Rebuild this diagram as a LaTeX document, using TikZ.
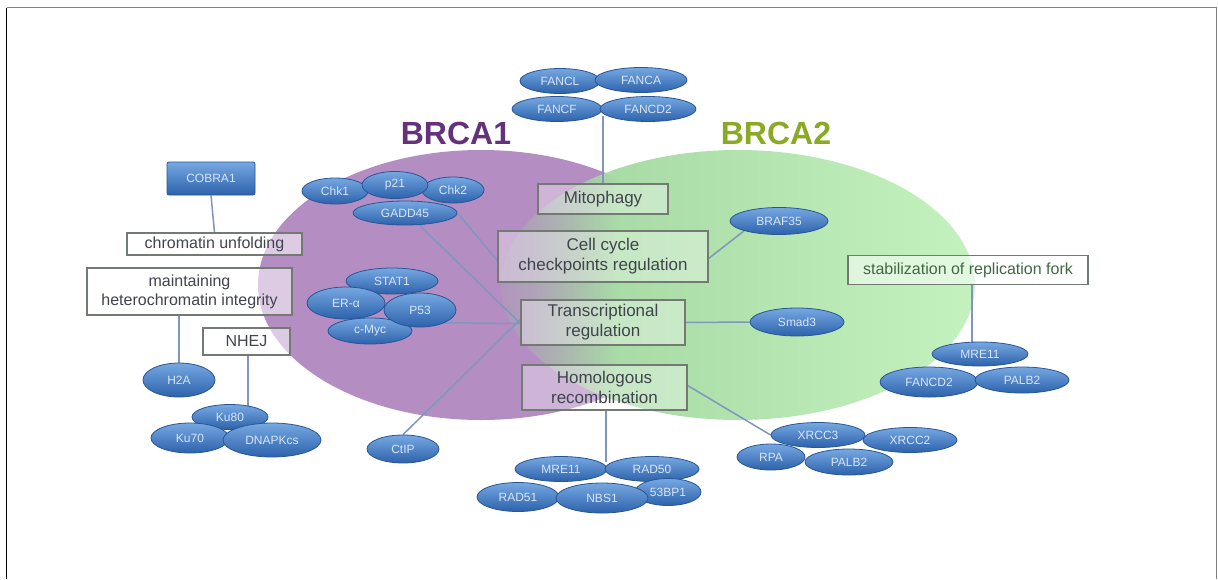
\documentclass[tikz,border=0pt]{standalone}
\usepackage{fontspec}
\setmainfont{Liberation Sans}
\usetikzlibrary{shapes.geometric,fadings,calc}
\definecolor{purpleBG}{RGB}{180,141,194}
\definecolor{greenL}{RGB}{160,212,158}
\definecolor{greenR}{RGB}{196,242,190}
\definecolor{blueT}{RGB}{118,168,225}
\definecolor{blueD}{RGB}{45,98,172}
\definecolor{blueB}{RGB}{40,85,150}
\definecolor{protT}{RGB}{215,228,245}
\definecolor{boxB}{RGB}{115,122,115}
\definecolor{boxT}{RGB}{65,68,78}
\definecolor{stabT}{RGB}{65,105,65}
\definecolor{lineC}{RGB}{128,150,190}
\definecolor{brcaA}{RGB}{100,50,122}
\definecolor{brcaB}{RGB}{138,170,35}
\pgfdeclarelayer{bg}
\pgfdeclarelayer{lines}
\pgfsetlayers{bg,lines,main}
\begin{tikzfadingfrompicture}[name=gfade]
  \shade[left color=transparent!100, right color=transparent!70] (-25bp,-30bp) rectangle (-19bp,30bp);
  \shade[left color=transparent!70, right color=transparent!35] (-19bp,-30bp) rectangle (-14.6bp,30bp);
  \shade[left color=transparent!35, right color=transparent!0] (-14.6bp,-30bp) rectangle (-10.3bp,30bp);
  \fill[transparent!0] (-10.3bp,-30bp) rectangle (30bp,30bp);
\end{tikzfadingfrompicture}
\begin{document}
\begin{tikzpicture}[x=1pt,y=-1pt,
  prot/.style={ellipse, draw=blueB, line width=0.8pt, top color=blueT, bottom color=blueD, inner sep=0pt, text=protT, font=\fontsize{12}{12}\selectfont},
  fbox/.style={rectangle, draw=boxB, line width=1.2pt, fill=white, fill opacity=0.55, text opacity=1, text=boxT, align=center, font=\fontsize{16}{19}\selectfont, inner sep=0pt},
  cbox/.style={fbox, fill opacity=0.35, font=\fontsize{17}{20}\selectfont},
  conn/.style={draw=lineC, line width=1.5pt},
  brca/.style={font=\fontsize{32}{32}\selectfont\bfseries}
]
\useasboundingbox (0,0) rectangle (1218,579);
\begin{pgfonlayer}{bg}
  \fill[white] (0,0) rectangle (1218,579);
  \fill[purpleBG] (481,285) ellipse [x radius=223, y radius=135];
  \path[left color=greenL, right color=greenR, path fading=gfade, fit fading=true] (738,285) ellipse [x radius=237, y radius=135];
\end{pgfonlayer}

% frame
\draw[black, line width=1.5pt] (6.5,579) -- (6.5,7.5);
\draw[gray, line width=1.5pt] (6.5,7.5) -- (1216.5,7.5) -- (1216.5,579);

% titles
\node[brca, text=brcaA] (t1) at (456,133) {BRCA1};
\node[brca, text=brcaB] (t2) at (776,133) {BRCA2};

% boxes
\node[cbox, minimum width=130, minimum height=30] (mito) at (603,199) {Mitophagy};
\node[cbox, minimum width=210, minimum height=51] (cc) at (603,256.5) {Cell cycle\\checkpoints regulation};
\node[cbox, minimum width=164, minimum height=45] (tr) at (603,322.5) {Transcriptional\\regulation};
\node[cbox, minimum width=165, minimum height=45] (hr) at (604.5,387.5) {Homologous\\recombination};
\node[fbox, minimum width=175, minimum height=22] (chrom) at (214.5,244) {chromatin unfolding};
\node[fbox, minimum width=205, minimum height=47] (maint) at (189.5,291.5) {maintaining\\heterochromatin integrity};
\node[fbox, minimum width=87, minimum height=27] (nhej) at (246.5,341.5) {NHEJ};
\node[fbox, minimum width=240, minimum height=29, text=stabT] (stab) at (968,270) {stabilization of replication fork};

% COBRA1
\node[rectangle, rounded corners=2pt, draw=blueB, line width=0.8pt, top color=blueT, bottom color=blueD, text=protT, font=\fontsize{12}{12}\selectfont, minimum width=88, minimum height=33] (cobra) at (211,178.5) {COBRA1};

% FANC cluster
\node[prot, minimum width=80, minimum height=25] (fancl) at (560,81) {FANCL};
\node[prot, minimum width=92, minimum height=25] (fanca) at (641,80) {FANCA};
\node[prot, minimum width=90, minimum height=25] (fancf) at (557,109) {FANCF};
\node[prot, minimum width=96, minimum height=25] (fancd) at (648,109) {FANCD2};
\coordinate (fancbot) at (603,116);

% Chk cluster
\node[prot, minimum width=66, minimum height=26] (chk1) at (335,191) {Chk1};
\node[prot, minimum width=62, minimum height=26] (chk2) at (453,190) {Chk2};
\node[prot, minimum width=66, minimum height=27] (p21) at (395,185) {p21};
\node[prot, minimum width=104, minimum height=24] (gadd) at (405,213) {GADD45};

% STAT cluster
\node[prot, minimum width=92, minimum height=26] (stat) at (392,281) {STAT1};
\node[prot, minimum width=78, minimum height=32] (era) at (346,303) {ER-α};
\node[prot, minimum width=84, minimum height=26] (cmyc) at (370,331) {c-Myc};
\node[prot, minimum width=72, minimum height=34] (p53) at (420,310) {P53};

% left
\node[prot, minimum width=72, minimum height=34] (h2a) at (179,380) {H2A};
\node[prot, minimum width=76, minimum height=25] (ku80) at (230,417) {Ku80};
\node[prot, minimum width=78, minimum height=30] (ku70) at (190,438) {Ku70};
\node[prot, minimum width=98, minimum height=34] (dnapk) at (272,440) {DNAPKcs};
\node[prot, minimum width=72, minimum height=28] (ctip) at (403,449) {CtIP};

% center right
\node[prot, minimum width=98, minimum height=27] (braf) at (779,221) {BRAF35};
\node[prot, minimum width=94, minimum height=28] (smad) at (797,322) {Smad3};

% XRCC cluster
\node[prot, minimum width=94, minimum height=25] (xrcc3) at (818,435) {XRCC3};
\node[prot, minimum width=94, minimum height=25] (xrcc2) at (910,440) {XRCC2};
\node[prot, minimum width=68, minimum height=26] (rpa) at (771,457) {RPA};
\node[prot, minimum width=88, minimum height=26] (palb) at (849,462) {PALB2};

% bottom cluster
\node[prot, minimum width=92, minimum height=25] (mre) at (561,469) {MRE11};
\node[prot, minimum width=94, minimum height=25] (rad50) at (652,469) {RAD50};
\node[prot, minimum width=82, minimum height=29] (rad51) at (518,497) {RAD51};
\node[prot, minimum width=66, minimum height=27] (bp) at (668,492) {53BP1};
\node[prot, minimum width=92, minimum height=30] (nbs) at (602,498) {NBS1};
\coordinate (hrbot) at (606,462);

% right cluster
\node[prot, minimum width=96, minimum height=24] (mreR) at (980,354) {MRE11};
\node[prot, minimum width=98, minimum height=30] (fancdR) at (929,382) {FANCD2};
\node[prot, minimum width=94, minimum height=26] (palbR) at (1022,380) {PALB2};

% connectors
\begin{pgfonlayer}{lines}
  \draw[conn] (fancbot) -- (mito.north);
  \draw[conn] ([xshift=1.5pt]hr.south) -- (hrbot);
  \draw[conn] (gadd.east) -- ([yshift=-4pt]cc.west);
  \draw[conn] (gadd.-40) -- ([yshift=-1pt]tr.west);
  \draw[conn] ([yshift=-1pt]tr.west) -- (tr.west -| p53.center);
  \draw[conn] ([yshift=3pt]tr.west) -- (ctip.north);
  \draw[conn] ([yshift=-2pt]cc.east) -- (braf.south west);
  \draw[conn] (tr.east) -- (smad.west);
  \draw[conn] ([yshift=2pt]hr.east) -- (xrcc3.west);
  \draw[conn] (cobra.south) -- (chrom.north);
  \draw[conn] (h2a.north |- maint.south) -- (h2a.center);
  \draw[conn] ([xshift=1.5pt]nhej.south) -- ([xshift=1.5pt]nhej.south |- ku80.center);
  \draw[conn] ([xshift=4pt]stab.south) -- ([xshift=4pt]stab.south |- mreR.center);
\end{pgfonlayer}
\end{tikzpicture}
\end{document}
